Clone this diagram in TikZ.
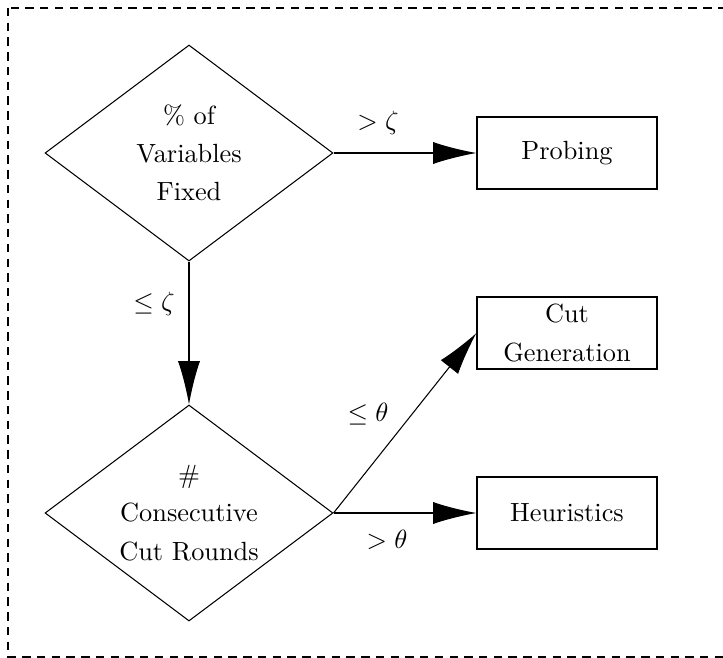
\documentclass[tikz,border=0pt]{standalone}
\usetikzlibrary{shapes.geometric,arrows.meta}
\begin{document}
\begin{tikzpicture}[x=0.38pt,y=-0.38pt,
  every node/.style={font=\fontsize{10}{14.5}\selectfont},
  decision/.style={draw,line width=0.4pt,shape=diamond,aspect=1.3333,inner sep=0pt,
    minimum width=109.44pt,minimum height=82.08pt,align=center},
  actionbox/.style={draw,line width=0.4pt,rectangle,inner sep=0pt,
    minimum width=68.4pt,minimum height=27.36pt,align=center},
  flow/.style={line width=0.4pt,-{Latex[length=16.5pt,width=8.4pt]}},
  lbl/.style={inner sep=0pt}]
\useasboundingbox (0,0) rectangle (723,658);
\clip (0,0) rectangle (723,658);
\draw[line width=0.4pt,dash pattern=on 3.2pt off 2.4pt] (8,8) rectangle (735,657);
\node[decision] (fixed) at (189,153) {\% of\\Variables\\Fixed};
\node[decision] (rounds) at (189,513) {\#\\Consecutive\\Cut Rounds};
\node[actionbox] (probing) at (567,153) {Probing};
\node[actionbox] (cutgen) at (567,333) {Cut\\Generation};
\node[actionbox] (heur) at (567,513) {Heuristics};
\draw[flow] (fixed.east) -- (probing.west);
\draw[flow] (fixed.south) -- (rounds.north);
\draw[flow] (rounds.east) -- (cutgen.west);
\draw[flow] (rounds.east) -- (heur.west);
\node[lbl] (lgz) at (378,123) {$>\zeta$};
\node[lbl] (lez) at (154,304) {$\leq\zeta$};
\node[lbl] (let) at (368,414) {$\leq\theta$};
\node[lbl] (lgt) at (387,540) {$>\theta$};
\end{tikzpicture}
\end{document}
